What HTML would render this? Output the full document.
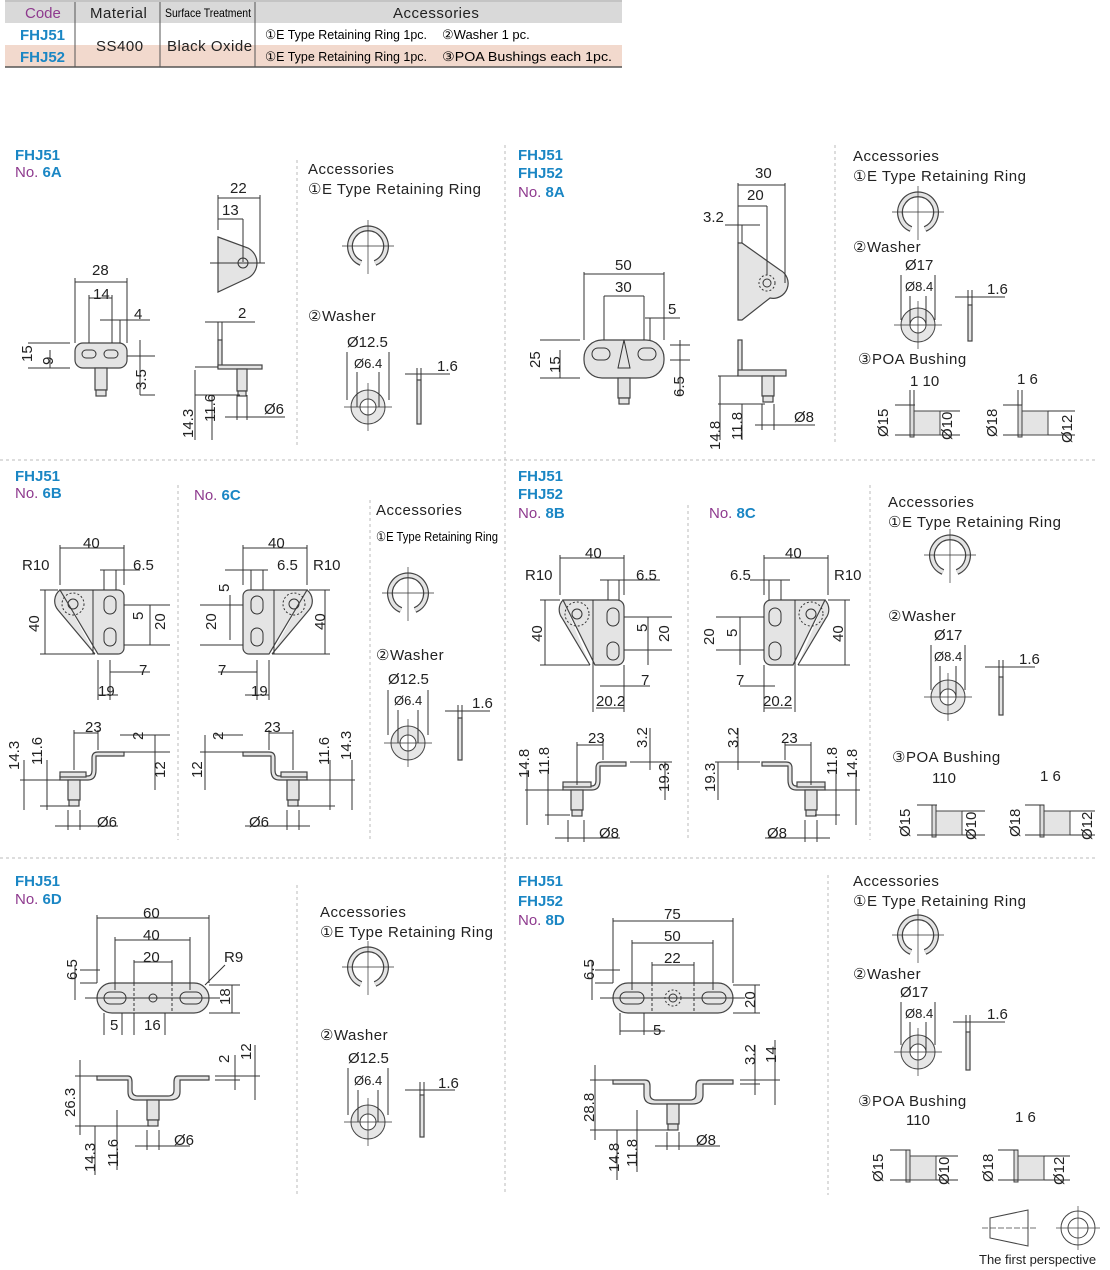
<!DOCTYPE html>
<html><head><meta charset="utf-8"><style>
body{margin:0;background:#fff}
svg{display:block;font-family:"Liberation Sans",Arial,sans-serif}
.d{font-size:15px;fill:#222}
.h{font-size:15px;fill:#222;letter-spacing:0.5px}
.b{font-size:15px;font-weight:bold;fill:#1a86c4}
.p{font-size:15px;fill:#8e3a8e}
.s{stroke:#333;stroke-width:1;fill:none}
.f{stroke:#444;stroke-width:1.2;fill:#e4e4e4}
.sep{stroke:#bbb;stroke-width:1;stroke-dasharray:3,3}
</style></head><body>
<svg width="1110" height="1270" viewBox="0 0 1110 1270">
<defs>
<g id="ring"><path d="M-7,17 A18,18 0 1 1 7,17" stroke="#444" stroke-width="6" fill="none"/><path d="M-7,17 A18,18 0 1 1 7,17" stroke="#e4e4e4" stroke-width="3.5" fill="none"/><line x1="-26" y1="0" x2="26" y2="0" stroke="#333" stroke-width="0.7"/><line x1="0" y1="-26" x2="0" y2="28" stroke="#333" stroke-width="0.7"/></g>
<g id="wash"><circle r="17" fill="#e6e6e6" stroke="#444"/><circle r="8" fill="#fff" stroke="#444"/><line x1="-24" y1="0" x2="24" y2="0" stroke="#333" stroke-width="0.7"/><line x1="0" y1="-24" x2="0" y2="24" stroke="#333" stroke-width="0.7"/></g>
<g id="bush"><rect x="0" y="-10" width="4" height="32" fill="#ddd" stroke="#444"/><rect x="4" y="-4" width="26" height="24" fill="#e4e4e4" stroke="#444"/></g>
</defs>

<!-- table -->
<rect x="5" y="2" width="617" height="21" fill="#d9d9d9"/>
<rect x="5" y="45" width="617" height="22" fill="#f2d9cd"/>
<rect x="75" y="23" width="180" height="22" fill="#fff"/>
<rect x="75" y="45" width="180" height="22" fill="#f2d9cd"/>
<line x1="5" y1="1" x2="622" y2="1" stroke="#888"/>
<line x1="5" y1="67" x2="622" y2="67" stroke="#555" stroke-width="1.5"/>
<line x1="75" y1="2" x2="75" y2="67" stroke="#555"/>
<line x1="160" y1="2" x2="160" y2="67" stroke="#555"/>
<line x1="255" y1="2" x2="255" y2="67" stroke="#555"/>
<text x="25" y="18" class="p">Code</text>
<text x="90" y="18" class="h">Material</text>
<text x="165" y="17" style="font-size:12px" textLength="86" lengthAdjust="spacingAndGlyphs">Surface Treatment</text>
<text x="393" y="18" class="h">Accessories</text>
<text x="20" y="40" class="b">FHJ51</text>
<text x="20" y="62" class="b">FHJ52</text>
<text x="96" y="51" class="h">SS400</text>
<text x="167" y="51" class="h">Black Oxide</text>
<text x="265" y="39" style="font-size:13px" textLength="162" lengthAdjust="spacingAndGlyphs">①E Type Retaining Ring 1pc.</text>
<text x="442" y="39" style="font-size:13px">②Washer 1 pc.</text>
<text x="265" y="61" style="font-size:13px" textLength="162" lengthAdjust="spacingAndGlyphs">①E Type Retaining Ring 1pc.</text>
<text x="442" y="61" style="font-size:13px" textLength="170" lengthAdjust="spacingAndGlyphs">③POA Bushings each 1pc.</text>

<!-- separators -->
<line x1="297" y1="160" x2="297" y2="445" class="sep"/>
<line x1="505" y1="145" x2="505" y2="1195" class="sep"/>
<line x1="835" y1="145" x2="835" y2="445" class="sep"/>
<line x1="0" y1="460" x2="1095" y2="460" class="sep"/>
<line x1="0" y1="858" x2="1095" y2="858" class="sep"/>
<line x1="178" y1="485" x2="178" y2="840" class="sep"/>
<line x1="370" y1="500" x2="370" y2="840" class="sep"/>
<line x1="688" y1="505" x2="688" y2="840" class="sep"/>
<line x1="870" y1="485" x2="870" y2="840" class="sep"/>
<line x1="297" y1="885" x2="297" y2="1195" class="sep"/>
<line x1="828" y1="875" x2="828" y2="1195" class="sep"/>

<!-- 6A -->
<text x="15" y="160" class="b">FHJ51</text>
<text x="15" y="177" class="p">No. <tspan class="b">6A</tspan></text>
<rect x="75" y="343" width="52" height="25" rx="8" class="f"/>
<rect x="82" y="350" width="14" height="8" rx="4" class="s"/><rect x="104" y="350" width="14" height="8" rx="4" class="s"/>
<rect x="95" y="368" width="12" height="22" class="f"/><rect x="96" y="390" width="10" height="6" class="f"/>
<path d="M75,343V278M127,343V278M89,343V295M112,343V295M75,282H127M89,298H112M100,320H150M120,320V343M28,343H70M28,368H70M50,350V368M140,340V395M127,356H155M140,395H155" class="s"/>
<path d="M218,237 L248,248 A17,17 0 0 1 248,278 L218,292 Z" class="f"/>
<circle cx="243" cy="263" r="5" class="s"/>
<path d="M218,230V195M260,263V195M218,198H260M218,219H243M243,219V262M210,263H265" class="s"/>
<rect x="218" y="340" width="4" height="28" class="f"/><rect x="218" y="365" width="44" height="4" class="f"/>
<rect x="237" y="369" width="10" height="22" class="f"/><rect x="238" y="391" width="8" height="5" class="f"/>
<path d="M205,322H255M218,322V340M222,322V340M195,367H218M195,395H240M195,370V440M212,395V440M237,395V420M247,395V420M225,417H285" class="s"/>
<text x="92" y="275" class="d">28</text><text x="93" y="299" class="d">14</text><text x="134" y="319" class="d">4</text>
<text transform="translate(32,362) rotate(-90)" class="d">15</text><text transform="translate(53,365) rotate(-90)" class="d">9</text>
<text transform="translate(146,390) rotate(-90)" class="d">3.5</text>
<text x="230" y="193" class="d">22</text><text x="222" y="215" class="d">13</text><text x="238" y="318" class="d">2</text>
<text transform="translate(193,438) rotate(-90)" class="d">14.3</text><text transform="translate(215,422) rotate(-90)" class="d">11.6</text>
<text x="264" y="414" class="d">Ø6</text>
<text x="308" y="174" class="h">Accessories</text><text x="308" y="194" class="h">①E Type Retaining Ring</text>
<use href="#ring" x="368" y="246"/>
<text x="308" y="321" class="h">②Washer</text>
<text x="347" y="347" class="d">Ø12.5</text><text x="354" y="368" class="d" style="font-size:13px">Ø6.4</text><text x="437" y="371" class="d">1.6</text>
<use href="#wash" x="368" y="407"/><rect x="417" y="380" width="4" height="44" class="f"/>
<path d="M347,352V400M389,352V400M357,372V407M379,372V407M405,374H450M417,368V380M421,368V380" class="s"/>

<!-- 8A -->
<text x="518" y="160" class="b">FHJ51</text><text x="518" y="178" class="b">FHJ52</text>
<text x="518" y="197" class="p">No. <tspan class="b">8A</tspan></text>
<rect x="584" y="340" width="80" height="38" rx="18" class="f"/>
<rect x="592" y="348" width="18" height="12" rx="6" class="s"/><rect x="638" y="348" width="18" height="12" rx="6" class="s"/>
<polygon points="624,340 618,368 630,368" class="s"/>
<rect x="618" y="378" width="12" height="20" class="f"/><rect x="619" y="398" width="10" height="6" class="f"/>
<path d="M584,340V272M664,340V272M604,340V296M644,340V296M584,274H664M604,296H644M645,318H680M650,318V340M540,340H580M540,378H580M560,350V378M670,345H690M670,360H690M680,340V395" class="s"/>
<path d="M738,243 L742,243 L780,270 A15,15 0 0 1 770,298 L742,320 L738,320 Z" class="f"/>
<circle cx="767" cy="283" r="8" class="s" stroke-dasharray="2,2"/><circle cx="767" cy="283" r="4" class="s"/>
<path d="M738,240V183M785,283V183M738,185H785M738,206H767M767,206V275M725,225H760M738,225V243M742,225V243" class="s"/>
<rect x="738" y="340" width="4" height="35" class="f"/><rect x="738" y="370" width="48" height="6" class="f"/>
<rect x="762" y="376" width="12" height="20" class="f"/><rect x="763" y="396" width="10" height="6" class="f"/>
<path d="M718,376H738M718,404H765M720,376V440M742,404V440M762,404V430M774,404V430M755,425H815" class="s"/>
<text x="755" y="178" class="d">30</text><text x="747" y="200" class="d">20</text><text x="703" y="222" class="d">3.2</text>
<text x="615" y="270" class="d">50</text><text x="615" y="292" class="d">30</text><text x="668" y="314" class="d">5</text>
<text transform="translate(540,368) rotate(-90)" class="d">25</text><text transform="translate(560,373) rotate(-90)" class="d">15</text>
<text transform="translate(684,397) rotate(-90)" class="d">6.5</text>
<text transform="translate(720,450) rotate(-90)" class="d">14.8</text><text transform="translate(742,440) rotate(-90)" class="d">11.8</text>
<text x="794" y="422" class="d">Ø8</text>
<text x="853" y="161" class="h">Accessories</text><text x="853" y="181" class="h">①E Type Retaining Ring</text>
<use href="#ring" x="918" y="212"/>
<text x="853" y="252" class="h">②Washer</text>
<text x="905" y="270" class="d">Ø17</text><text x="905" y="291" class="d" style="font-size:13px">Ø8.4</text><text x="987" y="294" class="d">1.6</text>
<use href="#wash" x="918" y="325"/><rect x="968" y="305" width="4" height="36" class="f"/>
<path d="M901,275V320M935,275V320M910,296V325M926,296V325M955,297H1005M968,290V305M972,290V305" class="s"/>
<text x="858" y="364" class="h">③POA Bushing</text>
<text x="910" y="386" class="d">1 10</text><text x="1017" y="384" class="d">1 6</text>
<use href="#bush" x="910" y="415"/><use href="#bush" x="1018" y="415"/>
<path d="M895,405H915M895,435H915M940,411H960M940,435H960M1003,405H1022M1003,435H1022M1048,411H1075M1048,435H1075M910,390V405M914,390V405M1018,390V405M1022,390V405" class="s"/>
<text transform="translate(888,437) rotate(-90)" class="d">Ø15</text><text transform="translate(952,440) rotate(-90)" class="d">Ø10</text>
<text transform="translate(997,437) rotate(-90)" class="d">Ø18</text><text transform="translate(1072,443) rotate(-90)" class="d">Ø12</text>

<!-- 6B -->
<text x="15" y="481" class="b">FHJ51</text><text x="15" y="498" class="p">No. <tspan class="b">6B</tspan></text>
<path d="M60,590 H118 A6,6 0 0 1 124,596 V648 A6,6 0 0 1 118,654 H98 Z M60,590 A14,14 0 0 0 58,610 L95,654" class="f"/>
<circle cx="73" cy="604" r="11" class="s" stroke-dasharray="2,2"/><circle cx="73" cy="604" r="5" class="s"/>
<rect x="104" y="596" width="12" height="18" rx="6" class="s"/><rect x="104" y="628" width="12" height="18" rx="6" class="s"/>
<path d="M93,590V654M60,585V545M124,585V545M60,548H124M100,570H140M104,570V590M116,570V590M40,590H58M40,654H95M45,590V654M124,605H170M124,645H170M150,605V645M98,660V700M110,660V700M98,695H118M110,672H150" class="s"/>
<path d="M60,776 H88 Q92,776 92,770 V758 Q92,752 98,752 H124 V756 H96 V770 Q96,780 88,780 H60 Z" class="f"/>
<rect x="60" y="772" width="26" height="5" class="f"/>
<rect x="68" y="780" width="12" height="20" class="f"/><rect x="69" y="800" width="10" height="6" class="f"/>
<path d="M20,780H60M40,806H70M24,760V810M47,760V810M74,730V770M98,730V750M74,733H98M120,735H170M124,752H170M155,735V790M68,810V830M80,810V830M55,826H118" class="s"/>
<text x="83" y="548" class="d">40</text><text x="22" y="570" class="d">R10</text><text x="133" y="570" class="d">6.5</text>
<text transform="translate(39,632) rotate(-90)" class="d">40</text><text transform="translate(143,620) rotate(-90)" class="d">5</text>
<text transform="translate(165,630) rotate(-90)" class="d">20</text>
<text x="139" y="675" class="d">7</text><text x="98" y="696" class="d">19</text><text x="85" y="732" class="d">23</text>
<text transform="translate(143,740) rotate(-90)" class="d">2</text>
<text transform="translate(19,770) rotate(-90)" class="d">14.3</text><text transform="translate(42,765) rotate(-90)" class="d">11.6</text>
<text transform="translate(165,778) rotate(-90)" class="d">12</text><text x="97" y="827" class="d">Ø6</text>

<!-- 6C -->
<text x="194" y="500" class="p">No. <tspan class="b">6C</tspan></text>
<path d="M307,590 H249 A6,6 0 0 0 243,596 V648 A6,6 0 0 0 249,654 H269 Z M307,590 A14,14 0 0 1 309,610 L272,654" class="f"/>
<circle cx="294" cy="604" r="11" class="s" stroke-dasharray="2,2"/><circle cx="294" cy="604" r="5" class="s"/>
<rect x="251" y="596" width="12" height="18" rx="6" class="s"/><rect x="251" y="628" width="12" height="18" rx="6" class="s"/>
<path d="M274,590V654M243,585V545M307,585V545M243,548H307M225,570H268M251,570V590M263,570V590M309,590H330M272,654H330M325,590V654M200,605H243M200,645H243M230,595V640M257,660V700M269,660V700M245,695H269M218,672H257" class="s"/>
<path d="M307,776 H279 Q275,776 275,770 V758 Q275,752 269,752 H243 V756 H271 V770 Q271,780 279,780 H307 Z" class="f"/>
<rect x="281" y="772" width="26" height="5" class="f"/>
<rect x="287" y="780" width="12" height="20" class="f"/><rect x="288" y="800" width="10" height="6" class="f"/>
<path d="M307,780H355M297,806H335M330,760V810M352,760V810M293,730V770M269,730V750M269,733H293M200,752H243M215,735H243M205,735V790M287,810V830M299,810V830M245,826H310" class="s"/>
<text x="268" y="548" class="d">40</text><text x="277" y="570" class="d">6.5</text><text x="313" y="570" class="d">R10</text>
<text transform="translate(229,592) rotate(-90)" class="d">5</text><text transform="translate(216,630) rotate(-90)" class="d">20</text>
<text transform="translate(325,630) rotate(-90)" class="d">40</text>
<text x="218" y="675" class="d">7</text><text x="251" y="696" class="d">19</text><text x="264" y="732" class="d">23</text>
<text transform="translate(223,740) rotate(-90)" class="d">2</text><text transform="translate(202,778) rotate(-90)" class="d">12</text>
<text transform="translate(329,765) rotate(-90)" class="d">11.6</text><text transform="translate(351,760) rotate(-90)" class="d">14.3</text>
<text x="249" y="827" class="d">Ø6</text>
<text x="376" y="515" class="h">Accessories</text>
<text x="376" y="541" style="font-size:13px" textLength="122" lengthAdjust="spacingAndGlyphs">①E Type Retaining Ring</text>
<use href="#ring" x="408" y="593"/>
<text x="376" y="660" class="h">②Washer</text>
<text x="388" y="684" class="d">Ø12.5</text><text x="394" y="705" class="d" style="font-size:13px">Ø6.4</text><text x="472" y="708" class="d">1.6</text>
<use href="#wash" x="408" y="743"/><rect x="458" y="718" width="4" height="42" class="f"/>
<path d="M388,690V735M428,690V735M398,710V743M418,710V743M445,711H490M458,705V718M462,705V718" class="s"/>

<!-- 8B -->
<text x="518" y="481" class="b">FHJ51</text><text x="518" y="499" class="b">FHJ52</text>
<text x="518" y="518" class="p">No. <tspan class="b">8B</tspan></text>
<path d="M563,600 H617 A7,7 0 0 1 624,607 V658 A7,7 0 0 1 617,665 H595 Z M563,600 A14,14 0 0 0 562,618 L590,665" class="f"/>
<circle cx="577" cy="614" r="12" class="s" stroke-dasharray="2,2"/><circle cx="577" cy="614" r="5" class="s"/>
<rect x="607" y="608" width="12" height="18" rx="6" class="s"/><rect x="607" y="642" width="12" height="18" rx="6" class="s"/>
<path d="M593,600V665M560,595V555M624,595V555M560,558H624M600,580H660M608,580V600M619,580V600M540,600H560M540,665H590M545,600V665M624,617H672M624,650H672M648,617V665M593,665V712M624,665V712M596,708H624M600,686H650" class="s"/>
<path d="M563,786 H592 Q596,786 596,780 V768 Q596,762 602,762 H626 V766 H600 V780 Q600,790 592,790 H563 Z" class="f"/>
<rect x="563" y="782" width="28" height="5" class="f"/>
<rect x="571" y="790" width="12" height="20" class="f"/><rect x="572" y="810" width="10" height="6" class="f"/>
<path d="M525,790H563M545,815H570M527,770V825M548,770V825M577,742V785M603,742V760M577,745H603M630,762H672M650,728V770M665,762V800M568,820V842M584,820V842M555,838H620" class="s"/>
<text x="585" y="558" class="d">40</text><text x="525" y="580" class="d">R10</text><text x="636" y="580" class="d">6.5</text>
<text transform="translate(542,642) rotate(-90)" class="d">40</text><text transform="translate(647,632) rotate(-90)" class="d">5</text>
<text transform="translate(669,642) rotate(-90)" class="d">20</text>
<text x="641" y="685" class="d">7</text><text x="596" y="706" class="d">20.2</text><text x="588" y="743" class="d">23</text>
<text transform="translate(647,748) rotate(-90)" class="d">3.2</text>
<text transform="translate(529,778) rotate(-90)" class="d">14.8</text><text transform="translate(549,775) rotate(-90)" class="d">11.8</text>
<text transform="translate(669,792) rotate(-90)" class="d">19.3</text><text x="599" y="838" class="d">Ø8</text>

<!-- 8C -->
<text x="709" y="518" class="p">No. <tspan class="b">8C</tspan></text>
<path d="M825,600 H771 A7,7 0 0 0 764,607 V658 A7,7 0 0 0 771,665 H793 Z M825,600 A14,14 0 0 1 826,618 L798,665" class="f"/>
<circle cx="811" cy="614" r="12" class="s" stroke-dasharray="2,2"/><circle cx="811" cy="614" r="5" class="s"/>
<rect x="769" y="608" width="12" height="18" rx="6" class="s"/><rect x="769" y="642" width="12" height="18" rx="6" class="s"/>
<path d="M795,600V665M764,595V555M828,595V555M764,558H828M750,580H790M769,580V600M781,580V600M828,600H850M798,665H850M845,600V665M716,617H764M716,650H764M740,617V665M764,665V712M795,665V712M764,708H792M740,686H775" class="s"/>
<path d="M825,786 H796 Q792,786 792,780 V768 Q792,762 786,762 H762 V766 H788 V780 Q788,790 796,790 H825 Z" class="f"/>
<rect x="797" y="782" width="28" height="5" class="f"/>
<rect x="805" y="790" width="12" height="20" class="f"/><rect x="806" y="810" width="10" height="6" class="f"/>
<path d="M825,790H860M815,815H840M836,770V825M856,770V825M811,742V785M785,742V760M785,745H811M715,762H760M738,728V770M718,762V800M805,820V842M817,820V842M765,838H830" class="s"/>
<text x="785" y="558" class="d">40</text><text x="730" y="580" class="d">6.5</text><text x="834" y="580" class="d">R10</text>
<text transform="translate(714,645) rotate(-90)" class="d">20</text><text transform="translate(737,637) rotate(-90)" class="d">5</text>
<text transform="translate(843,642) rotate(-90)" class="d">40</text>
<text x="736" y="685" class="d">7</text><text x="763" y="706" class="d">20.2</text>
<text transform="translate(738,748) rotate(-90)" class="d">3.2</text><text x="781" y="743" class="d">23</text>
<text transform="translate(715,792) rotate(-90)" class="d">19.3</text>
<text transform="translate(837,775) rotate(-90)" class="d">11.8</text><text transform="translate(857,778) rotate(-90)" class="d">14.8</text>
<text x="767" y="838" class="d">Ø8</text>
<text x="888" y="507" class="h">Accessories</text><text x="888" y="527" class="h">①E Type Retaining Ring</text>
<use href="#ring" x="950" y="555"/>
<text x="888" y="621" class="h">②Washer</text>
<text x="934" y="640" class="d">Ø17</text><text x="934" y="661" class="d" style="font-size:13px">Ø8.4</text><text x="1019" y="664" class="d">1.6</text>
<use href="#wash" x="948" y="697"/><rect x="999" y="677" width="4" height="38" class="f"/>
<path d="M931,645V690M965,645V690M940,666V697M956,666V697M985,667H1035M999,660V677M1003,660V677" class="s"/>
<text x="892" y="762" class="h">③POA Bushing</text>
<text x="932" y="783" class="d">110</text><text x="1040" y="781" class="d">1 6</text>
<use href="#bush" x="932" y="815"/><use href="#bush" x="1040" y="815"/>
<path d="M917,805H937M917,835H937M962,811H985M962,835H985M1025,805H1044M1025,835H1044M1070,811H1095M1070,835H1095" class="s"/>
<text transform="translate(910,837) rotate(-90)" class="d">Ø15</text><text transform="translate(976,840) rotate(-90)" class="d">Ø10</text>
<text transform="translate(1020,837) rotate(-90)" class="d">Ø18</text><text transform="translate(1092,840) rotate(-90)" class="d">Ø12</text>

<!-- 6D -->
<text x="15" y="886" class="b">FHJ51</text><text x="15" y="904" class="p">No. <tspan class="b">6D</tspan></text>
<rect x="97" y="983" width="112" height="30" rx="15" class="f"/>
<path d="M134,983V1013M172,983V1013" class="s" stroke-dasharray="3,2"/>
<rect x="104" y="992" width="22" height="12" rx="6" class="s"/><rect x="180" y="992" width="22" height="12" rx="6" class="s"/>
<circle cx="153" cy="998" r="4" class="s"/>
<path d="M97,983V915M209,983V915M115,990V937M190,990V937M134,983V960M172,983V960M97,918H209M115,940H190M134,962H172M85,998H220M80,983H97M80,970H100M75,965V1000M209,985H240M209,1013H240M232,985V1013M104,1013V1035M122,1013V1035M134,1013V1035M165,1013V1035M225,965L205,985" class="s"/>
<path d="M97,1076 H128 Q132,1076 132,1082 V1090 Q132,1096 138,1096 H168 Q174,1096 174,1090 V1082 Q174,1076 178,1076 H209 V1080 H180 V1092 Q180,1100 170,1100 H136 Q128,1100 128,1092 V1080 H97 Z" class="f"/>
<rect x="147" y="1100" width="12" height="20" class="f"/><rect x="148" y="1120" width="10" height="6" class="f"/>
<path d="M75,1076H97M75,1126H150M80,1060V1135M95,1126V1175M117,1110V1170M215,1076H260M215,1080H240M235,1055V1090M255,1045V1100M147,1130V1150M159,1130V1150M135,1146H190" class="s"/>
<text x="143" y="918" class="d">60</text><text x="143" y="940" class="d">40</text><text x="143" y="962" class="d">20</text><text x="224" y="962" class="d">R9</text>
<text transform="translate(77,980) rotate(-90)" class="d">6.5</text><text transform="translate(230,1005) rotate(-90)" class="d">18</text>
<text x="110" y="1030" class="d">5</text><text x="144" y="1030" class="d">16</text>
<text transform="translate(229,1063) rotate(-90)" class="d">2</text><text transform="translate(251,1060) rotate(-90)" class="d">12</text>
<text transform="translate(75,1117) rotate(-90)" class="d">26.3</text><text x="174" y="1145" class="d">Ø6</text>
<text transform="translate(95,1172) rotate(-90)" class="d">14.3</text><text transform="translate(118,1167) rotate(-90)" class="d">11.6</text>
<text x="320" y="917" class="h">Accessories</text><text x="320" y="937" class="h">①E Type Retaining Ring</text>
<use href="#ring" x="368" y="967"/>
<text x="320" y="1040" class="h">②Washer</text>
<text x="348" y="1063" class="d">Ø12.5</text><text x="354" y="1085" class="d" style="font-size:13px">Ø6.4</text><text x="438" y="1088" class="d">1.6</text>
<use href="#wash" x="368" y="1122"/><rect x="420" y="1095" width="4" height="42" class="f"/>
<path d="M348,1068V1115M388,1068V1115M358,1090V1122M378,1090V1122M405,1090H455M420,1082V1095M424,1082V1095" class="s"/>

<!-- 8D -->
<text x="518" y="886" class="b">FHJ51</text><text x="518" y="906" class="b">FHJ52</text>
<text x="518" y="925" class="p">No. <tspan class="b">8D</tspan></text>
<rect x="613" y="983" width="120" height="30" rx="15" class="f"/>
<path d="M652,983V1013M694,983V1013" class="s" stroke-dasharray="3,2"/>
<rect x="620" y="992" width="24" height="12" rx="6" class="s"/><rect x="702" y="992" width="24" height="12" rx="6" class="s"/>
<circle cx="673" cy="998" r="8" class="s" stroke-dasharray="2,2"/><circle cx="673" cy="998" r="4" class="s"/>
<path d="M613,983V918M733,983V918M632,990V940M713,990V940M652,983V962M694,983V962M613,921H733M632,943H713M652,965H694M600,998H745M595,983H613M595,970H620M592,960V1000M733,985H760M733,1013H760M755,985V1013M620,1013V1035M644,1013V1035M620,1031H665" class="s"/>
<path d="M613,1080 H645 Q650,1080 650,1086 V1094 Q650,1100 656,1100 H690 Q696,1100 696,1094 V1086 Q696,1080 701,1080 H733 V1084 H703 V1095 Q703,1104 692,1104 H654 Q644,1104 644,1095 V1084 H613 Z" class="f"/>
<rect x="667" y="1104" width="12" height="20" class="f"/><rect x="668" y="1124" width="10" height="6" class="f"/>
<path d="M590,1080H613M590,1130H670M595,1065V1140M617,1130V1180M637,1110V1172M740,1080H780M740,1084H760M755,1045V1095M775,1040V1105M667,1132V1150M679,1132V1150M655,1146H720" class="s"/>
<text x="664" y="919" class="d">75</text><text x="664" y="941" class="d">50</text><text x="664" y="963" class="d">22</text>
<text transform="translate(594,980) rotate(-90)" class="d">6.5</text><text transform="translate(755,1008) rotate(-90)" class="d">20</text>
<text x="653" y="1035" class="d">5</text>
<text transform="translate(755,1065) rotate(-90)" class="d">3.2</text><text transform="translate(776,1063) rotate(-90)" class="d">14</text>
<text transform="translate(594,1122) rotate(-90)" class="d">28.8</text><text x="696" y="1145" class="d">Ø8</text>
<text transform="translate(619,1172) rotate(-90)" class="d">14.8</text><text transform="translate(637,1167) rotate(-90)" class="d">11.8</text>
<text x="853" y="886" class="h">Accessories</text><text x="853" y="906" class="h">①E Type Retaining Ring</text>
<use href="#ring" x="918" y="935"/>
<text x="853" y="979" class="h">②Washer</text>
<text x="900" y="997" class="d">Ø17</text><text x="905" y="1018" class="d" style="font-size:13px">Ø8.4</text><text x="987" y="1019" class="d">1.6</text>
<use href="#wash" x="918" y="1052"/><rect x="966" y="1032" width="4" height="38" class="f"/>
<path d="M901,1002V1045M935,1002V1045M910,1022V1052M926,1022V1052M953,1022H1005M966,1015V1032M970,1015V1032" class="s"/>
<text x="858" y="1106" class="h">③POA Bushing</text>
<text x="906" y="1125" class="d">110</text><text x="1015" y="1122" class="d">1 6</text>
<use href="#bush" x="906" y="1160"/><use href="#bush" x="1014" y="1160"/>
<path d="M890,1150H910M890,1180H910M936,1156H958M936,1180H958M998,1150H1018M998,1180H1018M1044,1156H1070M1044,1180H1070" class="s"/>
<text transform="translate(883,1182) rotate(-90)" class="d">Ø15</text><text transform="translate(949,1185) rotate(-90)" class="d">Ø10</text>
<text transform="translate(993,1182) rotate(-90)" class="d">Ø18</text><text transform="translate(1064,1185) rotate(-90)" class="d">Ø12</text>

<!-- perspective symbol -->
<polygon points="990,1218 1028,1210 1028,1246 990,1238" fill="#fff" stroke="#444"/>
<line x1="982" y1="1228" x2="1036" y2="1228" stroke="#444" stroke-width="0.7" stroke-dasharray="6,2"/>
<circle cx="1078" cy="1228" r="17" fill="#fff" stroke="#444"/><circle cx="1078" cy="1228" r="10" fill="#fff" stroke="#444"/>
<path d="M1056,1228H1100M1078,1206V1250" stroke="#444" stroke-width="0.7"/>
<text x="979" y="1264" style="font-size:13px" fill="#222">The first perspective</text>
</svg>
</body></html>
